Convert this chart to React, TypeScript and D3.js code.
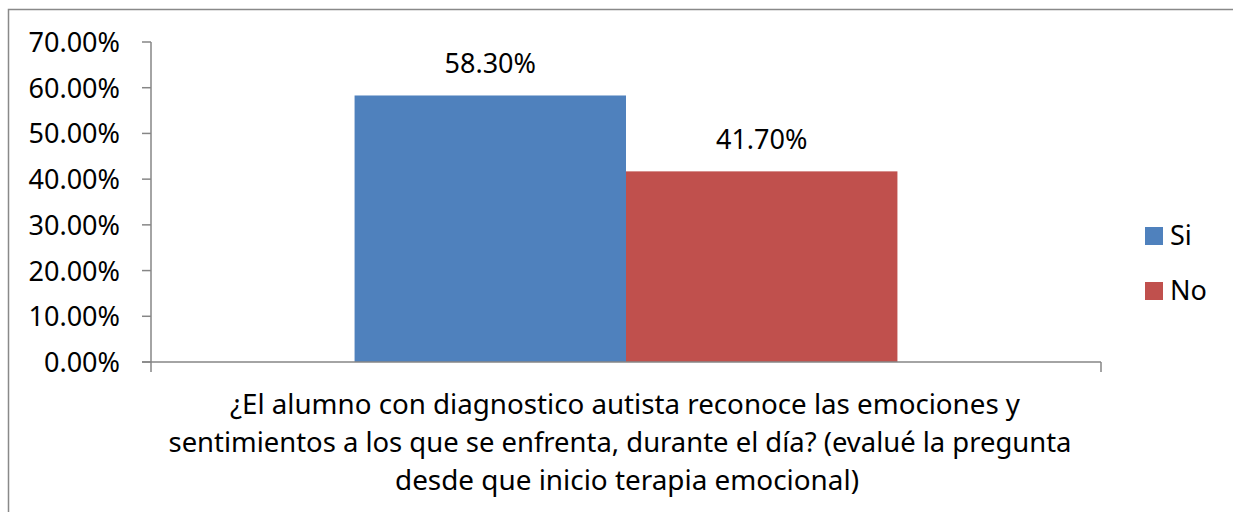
import React from "react";
import * as d3 from "d3";

const categories = ["q1"];
const seriesNames = ["Si", "No"];
const seriesValues = [0.583, 0.417];
const seriesColors = ["#4F81BD", "#C0504D"];
const yTicks = [0, 0.1, 0.2, 0.3, 0.4, 0.5, 0.6, 0.7];
const titleLines = [
  "¿El alumno con diagnostico autista reconoce las emociones y",
  "sentimientos a los que se enfrenta, durante el día? (evalué la pregunta",
  "desde que inicio terapia emocional)",
];

const W = 1233;
const H = 512;
const FONT = "'Noto Sans', 'Open Sans', sans-serif";
const FS = 27;
const AXIS = "#868686";

const plotLeft = 151;
const plotRight = 1101;
const plotTop = 42;
const plotBottom = 362;

export default function App() {
  const y = d3.scaleLinear().domain([0, 0.7]).range([plotBottom, plotTop]);
  const x = d3.scaleBand().domain(categories).range([plotLeft, plotRight]).padding(0);
  const fmt = d3.format(".2%");

  const bw = x.bandwidth();
  const groupW = (bw * seriesNames.length) / (seriesNames.length + 1.5);
  const off = (bw - groupW) / 2;
  const x0 = x(categories[0]) as number;
  const inner = d3
    .scaleBand()
    .domain(seriesNames)
    .range([x0 + off, x0 + off + groupW])
    .padding(0);

  const titleLayout = [
    { cx: 625, w: 790, y: 414 },
    { cx: 620, w: 903, y: 452 },
    { cx: 627, w: 464, y: 490 },
  ];

  return (
    <svg
      width={W}
      height={H}
      style={{ position: "absolute", left: 0, top: 0, background: "#fff" }}
      fontFamily={FONT}
    >
      <rect x={0} y={0} width={W} height={H} fill="#fff" />
      <rect x={8.5} y={9.5} width={1240} height={520} fill="none" stroke="#898989" strokeWidth={1.5} />

      {/* bars */}
      {seriesNames.map((s, i) => (
        <rect
          key={s}
          x={inner(s) as number}
          y={y(seriesValues[i])}
          width={inner.bandwidth()}
          height={plotBottom - y(seriesValues[i])}
          fill={seriesColors[i]}
        />
      ))}

      {/* y axis */}
      <line x1={plotLeft} x2={plotLeft} y1={plotTop} y2={plotBottom + 10} stroke={AXIS} strokeWidth={1.5} />
      {yTicks.map((t) => (
        <g key={t}>
          <line x1={plotLeft - 9} x2={plotLeft} y1={y(t)} y2={y(t)} stroke={AXIS} strokeWidth={1.5} />
          <text x={120} y={y(t) + 10} textAnchor="end" fontSize={FS} fill="#000">
            {fmt(t)}
          </text>
        </g>
      ))}

      {/* x axis */}
      <line x1={plotLeft - 9} x2={plotRight} y1={plotBottom} y2={plotBottom} stroke={AXIS} strokeWidth={1.5} />
      <line x1={plotRight} x2={plotRight} y1={plotBottom} y2={plotBottom + 10} stroke={AXIS} strokeWidth={1.5} />

      {/* data labels */}
      {seriesNames.map((s, i) => (
        <text
          key={s}
          x={(inner(s) as number) + inner.bandwidth() / 2}
          y={y(seriesValues[i]) - 22}
          textAnchor="middle"
          fontSize={FS}
          fill="#000"
        >
          {fmt(seriesValues[i])}
        </text>
      ))}

      {/* axis title */}
      {titleLines.map((line, i) => (
        <text
          key={i}
          x={titleLayout[i].cx}
          y={titleLayout[i].y}
          textAnchor="middle"
          fontSize={FS}
          textLength={titleLayout[i].w}
          lengthAdjust="spacingAndGlyphs"
          fill="#000"
        >
          {line}
        </text>
      ))}

      {/* legend */}
      {seriesNames.map((s, i) => (
        <g key={s} transform={`translate(1145, ${227 + i * 55})`}>
          <rect x={0} y={0} width={18} height={18} fill={seriesColors[i]} />
          <text x={25} y={17.5} fontSize={FS} fill="#000">
            {s}
          </text>
        </g>
      ))}
    </svg>
  );
}
